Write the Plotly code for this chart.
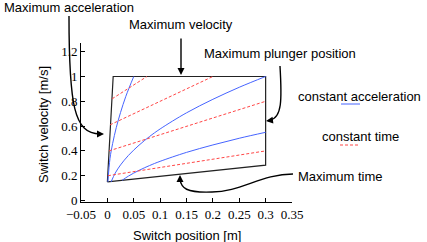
import plotly.graph_objects as go

# ---------------- data ----------------
boundary_x = [0.0, 0.011, 0.3, 0.3, 0.0]
boundary_y = [0.15, 1.0, 1.0, 0.285, 0.15]

accel_a_x = [0.001, 0.005, 0.01, 0.017, 0.025, 0.035, 0.05]
accel_a_y = [0.15, 0.34, 0.46, 0.59, 0.71, 0.84, 1.0]

accel_b_x = [0.007, 0.015, 0.025, 0.04, 0.06, 0.08, 0.1, 0.15, 0.2, 0.25, 0.3]
accel_b_y = [0.15, 0.222, 0.287, 0.364, 0.446, 0.516, 0.577, 0.707, 0.816, 0.913, 1.0]

accel_c_x = [0.028, 0.04, 0.06, 0.08, 0.1, 0.15, 0.2, 0.25, 0.3]
accel_c_y = [0.163, 0.197, 0.243, 0.282, 0.316, 0.388, 0.448, 0.502, 0.55]

time_1_x = [0.001, 0.3]
time_1_y = [0.2, 0.4]
time_2_x = [0.003, 0.3]
time_2_y = [0.4, 0.8]
time_3_x = [0.005, 0.2]
time_3_y = [0.61, 1.0]
time_4_x = [0.009, 0.075]
time_4_y = [0.82, 1.0]

x_tick_vals = [-0.05, 0, 0.05, 0.1, 0.15, 0.2, 0.25, 0.3, 0.35]
x_tick_text = ["\u22120.05", "0", "0.05", "0.1", "0.15", "0.2", "0.25", "0.3", "0.35"]
y_tick_vals = [0, 0.2, 0.4, 0.6, 0.8, 1.0, 1.2]
y_tick_text = ["0", "0.2", "0.4", "0.6", "0.8", "1", "1.2"]

# ---------------- layout geometry (pixels) ----------------
W, H = 427, 242
L, R, T, B = 81, 292, 43, 202
PW, PH = R - L, B - T


def P(X, Y):
    return (X - L) / PW, (B - Y) / PH


def path(points):
    s = ""
    for cmd, pts in points:
        s += cmd + " " + " ".join("%.4f,%.4f" % P(px, py) for px, py in pts) + " "
    return s.strip()


BLUE = "rgb(70,100,255)"
RED = "rgb(255,70,70)"
BLACK = "#222222"
SANS = "Liberation Sans"
SERIF = "Liberation Serif"

fig = go.Figure()

fig.add_trace(go.Scatter(x=boundary_x, y=boundary_y, mode="lines",
                         line=dict(color=BLACK, width=1.2), hoverinfo="skip"))
for xs, ys in [(accel_a_x, accel_a_y), (accel_b_x, accel_b_y), (accel_c_x, accel_c_y)]:
    fig.add_trace(go.Scatter(x=xs, y=ys, mode="lines", line=dict(color=BLUE, width=1, shape="spline"),
                             hoverinfo="skip"))
for xs, ys in [(time_1_x, time_1_y), (time_2_x, time_2_y), (time_3_x, time_3_y), (time_4_x, time_4_y)]:
    fig.add_trace(go.Scatter(x=xs, y=ys, mode="lines", line=dict(color=RED, width=1, dash="3px,2px"),
                             hoverinfo="skip"))

shapes = []
for pts in [
    [("M", [(69, 16)]), ("C", [(69, 105), (74, 134), (100, 134)])],
    [("M", [(280, 66)]), ("C", [(282, 100), (282, 118), (270, 120)])],
    [("M", [(293, 174)]), ("C", [(262, 174), (240, 192), (212, 192)]),
     ("C", [(186, 193), (181, 188), (180, 179)])],
]:
    shapes.append(dict(type="path", xref="paper", yref="paper", path=path(pts),
                       line=dict(color="black", width=1.4)))

x0, y0 = P(341, 104)
x1, _ = P(360, 104)
shapes.append(dict(type="line", xref="paper", yref="paper", x0=x0, x1=x1, y0=y0, y1=y0,
                   line=dict(color=BLUE, width=1)))
x0, y0 = P(340, 145)
x1, _ = P(359, 145)
shapes.append(dict(type="line", xref="paper", yref="paper", x0=x0, x1=x1, y0=y0, y1=y0,
                   line=dict(color=RED, width=1, dash="3px,2px")))

annotations = []


def text(s, X, Y, angle=0):
    x, y = P(X, Y)
    annotations.append(dict(text=s, x=x, y=y, xref="paper", yref="paper", showarrow=False,
                            xanchor="center", yanchor="middle", textangle=angle,
                            font=dict(family=SANS, size=13, color="black")))


def arrow(Xtip, Ytip, ax, ay):
    x, y = P(Xtip, Ytip)
    annotations.append(dict(text="", x=x, y=y, xref="paper", yref="paper", showarrow=True,
                            ax=ax, ay=ay, arrowhead=2, arrowsize=1, arrowwidth=1.4,
                            arrowcolor="black"))


text("Maximum acceleration", 69, 7)
text("Maximum velocity", 180.5, 24)
text("Maximum plunger position", 280, 53)
text("constant acceleration", 359.5, 96)
text("constant time", 360, 136)
text("Maximum time", 340.5, 176)
text("Switch position [m]", 186.5, 235)
text("Switch velocity [m/s]", 43, 125, angle=-90)

arrow(104, 134, -8, 0)
arrow(266, 121, 8, -1)
arrow(181, 75, 0, -38)
arrow(180, 175, 0, 8)

fig.update_layout(
    width=W, height=H,
    margin=dict(l=L, r=W - R, t=T, b=H - B),
    paper_bgcolor="white", plot_bgcolor="white",
    showlegend=False,
    shapes=shapes, annotations=annotations,
    xaxis=dict(range=[-0.05, 0.35], tickvals=x_tick_vals, ticktext=x_tick_text,
               showgrid=False, zeroline=False, showline=True, linecolor="black", linewidth=1,
               ticks="inside", ticklen=4, tickcolor="black", tickwidth=1,
               tickfont=dict(family=SERIF, size=13, color="black")),
    yaxis=dict(range=[-0.012, 1.27], tickvals=y_tick_vals, ticktext=y_tick_text,
               showgrid=False, zeroline=False, showline=True, linecolor="black", linewidth=1,
               ticks="inside", ticklen=4, tickcolor="black", tickwidth=1,
               tickfont=dict(family=SERIF, size=13, color="black")),
)

fig.write_html("out.html", config={"displayModeBar": False},
               post_script="document.body.style.margin='0px';document.body.style.overflow='hidden';")
